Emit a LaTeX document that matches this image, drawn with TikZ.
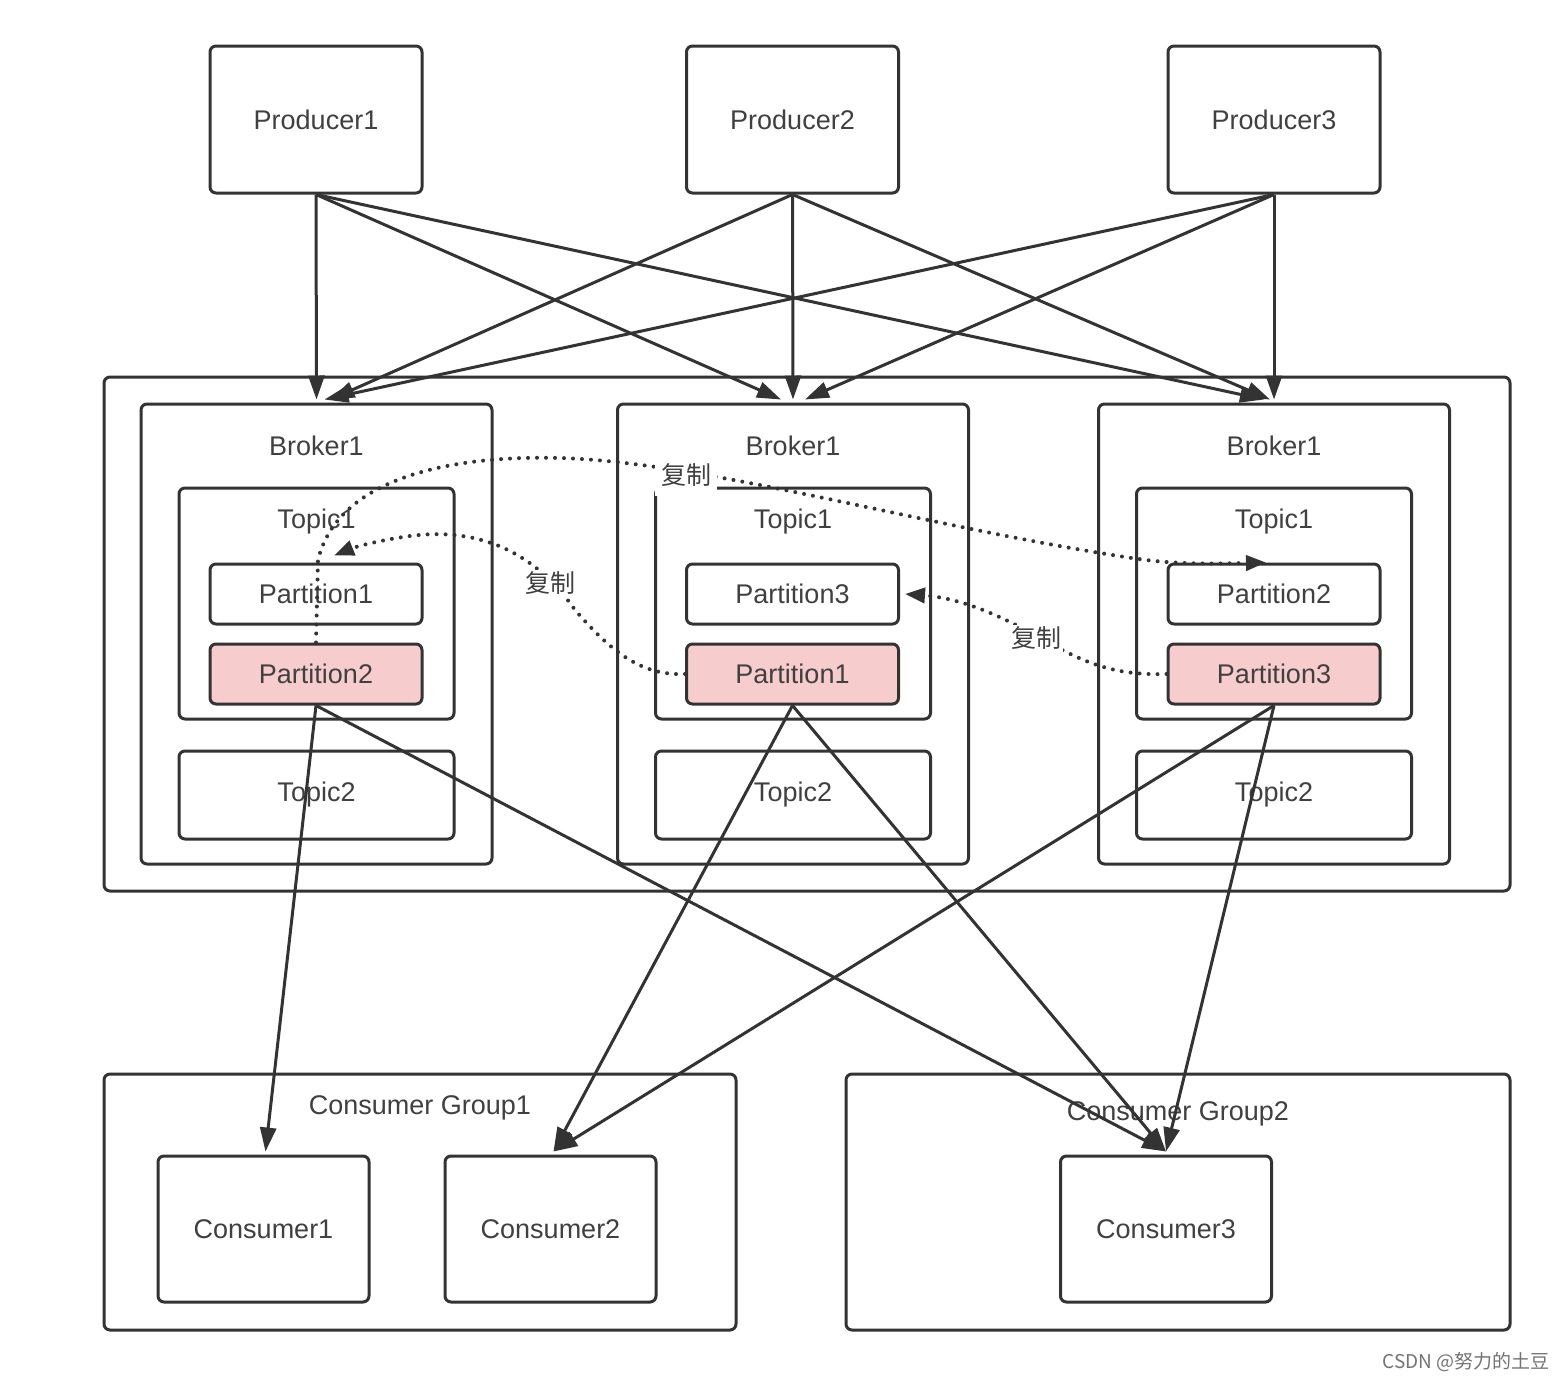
\documentclass[tikz,border=0pt]{standalone}
\usepackage{fontspec}
\setmainfont{Liberation Sans}
\newfontfamily\cjk{Noto Sans CJK SC}
\usetikzlibrary{arrows.meta}
\definecolor{ln}{HTML}{333333}
\definecolor{tx}{HTML}{404040}
\definecolor{pinkfill}{HTML}{F6CDCC}
\begin{document}
\begin{tikzpicture}[x=1pt,y=-1pt,
  box/.style={draw=ln, line width=3pt, rounded corners=6pt, fill=white, inner sep=0pt},
  txt/.style={font=\fontsize{27}{32}\selectfont, text=tx},
  prod/.style={box, txt, minimum width=212pt, minimum height=147pt},
  broker/.style={box, minimum width=351pt, minimum height=460pt},
  topicbox/.style={box, minimum width=275pt, minimum height=231pt},
  topictwo/.style={box, txt, minimum width=275pt, minimum height=88pt},
  part/.style={box, txt, minimum width=212pt, minimum height=60pt},
  lead/.style={part, fill=pinkfill},
  group/.style={box, minimum width=#1, minimum height=256pt},
  cons/.style={box, txt, minimum width=211pt, minimum height=146pt},
  lbl/.style={txt, inner sep=0pt},
  ar/.style={draw=ln, line width=3pt, -{Triangle[length=24pt,width=16pt]}},
  rep/.style={draw=ln, line width=4pt, line cap=round, dash pattern=on 0pt off 9pt, -{Triangle[length=20pt,width=15pt]}},
  replbl/.style={font=\cjk\fontsize{25}{30}\selectfont, text=tx, fill=white, inner sep=2pt}
]
\useasboundingbox (0,0) rectangle (1568,1382);

% producers
\node[prod] (p1) at (316,119.5) {Producer1};
\node[prod] (p2) at (792.5,119.5) {Producer2};
\node[prod] (p3) at (1274,119.5) {Producer3};

% cluster
\node[box, minimum width=1406pt, minimum height=514pt] (cluster) at (807,634) {};

% brokers
\foreach \n/\x in {b1/316.5, b2/793, b3/1274}{
  \node[broker] (\n) at (\x,634) {};
  \node[lbl] (\n lab) at (\x,446) {Broker1};
  \node[topicbox] (\n t1) at (\x,603.5) {};
  \node[lbl] (\n tlab) at (\x,522) {Topic1};
  \node[topictwo] (\n t2) at (\x,795) {Topic2};
}
\node[part] (b1p1) at (316,594) {Partition1};
\node[lead] (b1p2) at (316,674) {Partition2};
\node[part] (b2p3) at (792.5,594) {Partition3};
\node[lead] (b2p1) at (792.5,674) {Partition1};
\node[part] (b3p2) at (1274,594) {Partition2};
\node[lead] (b3p3) at (1274,674) {Partition3};

% consumer groups
\node[group=632pt] (g1) at (420,1202) {};
\node[lbl] (g1lab) at (420,1108) {Consumer Group1};
\node[group=664pt] (g2) at (1178,1202) {};
\node[lbl] (g2lab) at (1178,1114) {Consumer Group2};
\node[cons] (c1) at (263.5,1229) {Consumer1};
\node[cons] (c2) at (550.5,1229) {Consumer2};
\node[cons] (c3) at (1166,1229) {Consumer3};

% producer -> broker
\draw[ar] (p1.south) -- ([yshift=3pt]b1.north);
\draw[ar] (p1.south) -- ([xshift=-12pt,yshift=3pt]b2.north);
\draw[ar] (p1.south) -- ([xshift=-10pt,yshift=3pt]b3.north);
\draw[ar] (p2.south) -- ([xshift=14pt,yshift=3pt]b1.north);
\draw[ar] (p2.south) -- ([yshift=3pt]b2.north);
\draw[ar] (p2.south) -- ([xshift=-4pt,yshift=3pt]b3.north);
\draw[ar] (p3.south) -- ([xshift=8pt,yshift=3pt]b1.north);
\draw[ar] (p3.south) -- ([xshift=12pt,yshift=3pt]b2.north);
\draw[ar] (p3.south) -- ([yshift=3pt]b3.north);

% partition -> consumer
\draw[ar] (b1p2.south) -- ([xshift=2pt,yshift=3pt]c1.north);
\draw[ar] (b1p2.south) -- ([yshift=3pt]c3.north);
\draw[ar] (b2p1.south) -- ([xshift=3pt,yshift=3pt]c2.north);
\draw[ar] (b2p1.south) -- ([yshift=3pt]c3.north);
\draw[ar] (b3p3.south) -- ([xshift=3pt,yshift=3pt]c2.north);
\draw[ar] (b3p3.south) -- ([yshift=3pt]c3.north);

% replication
\draw[rep] (b1p2.north) -- (318,560) .. controls (338,478) and (450,455) .. (560,458)
  .. controls (700,462) and (900,520) .. (1100,553)
  .. controls (1150,561) and (1170,565) .. ([xshift=-8pt]b3p2.north);
\node[replbl, minimum width=62pt, minimum height=42pt] (r1) at (686,475) {复制};

\draw[rep] (b2p1.west) .. controls (640,676) and (610,650) .. (575,610)
  .. controls (530,545) and (470,528) .. (410,536)
  .. controls (380,540) and (355,547) .. ([xshift=18pt,yshift=7pt]b1p1.north);
\node[replbl] (r2) at (550,583) {复制};

\draw[rep] (b3p3.west) .. controls (1110,676) and (1080,660) .. (1040,638)
  .. controls (1000,615) and (960,598) .. ([xshift=5pt]b2p3.east);
\node[replbl] (r3) at (1036,638) {复制};

% watermark
\node[font=\cjk\fontsize{19}{22}\selectfont, text=black!55, inner sep=0pt] (wm) at (1466,1362) {CSDN @努力的土豆};
\end{tikzpicture}
\end{document}
